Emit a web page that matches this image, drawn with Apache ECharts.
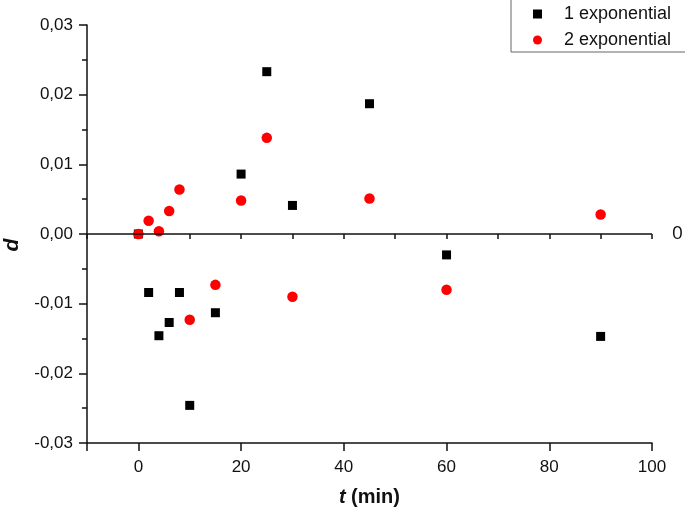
<!DOCTYPE html>
<html>
<head>
<meta charset="utf-8">
<script src="https://cdn.jsdelivr.net/npm/echarts@6/dist/echarts.min.js"></script>
<style>html,body{margin:0;padding:0;background:#fff}#c{width:685px;height:513px}</style>
</head>
<body>
<div id="c"></div>
<script>
var times = [0, 2, 4, 6, 8, 10, 15, 20, 25, 30, 45, 60, 90];
var oneExp = [0, -0.0084, -0.0146, -0.0127, -0.0084, -0.0246, -0.0113, 0.0086, 0.0233, 0.0041, 0.0187, -0.0030, -0.0147];
var twoExp = [0, 0.0019, 0.0004, 0.0033, 0.0064, -0.0123, -0.0073, 0.0048, 0.0138, -0.0090, 0.0051, -0.0080, 0.0028];
var seriesNames = ['1 exponential', '2 exponential'];
var zeroLineLabel = '0';

function pairs(xs, ys) { return xs.map(function (x, i) { return [x, ys[i]]; }); }
var font = 'Liberation Sans, Arial, sans-serif';
var chart = echarts.init(document.getElementById('c'));
chart.setOption({
  animation: false,
  backgroundColor: '#fff',
  grid: { left: 87, right: 33, top: 25, bottom: 70, containLabel: false, outerBoundsMode: 'none' },
  legend: {
    left: 511, top: -1,
    orient: 'vertical',
    padding: [6, 16, 3, 22],
    itemWidth: 9, itemHeight: 9, itemGap: 8,
    borderColor: '#666', borderWidth: 1,
    textStyle: { fontFamily: font, fontSize: 18, color: '#111', lineHeight: 16, padding: [0, 0, 0, 17] },
    data: [{ name: seriesNames[0], icon: 'rect' }, { name: seriesNames[1], icon: 'circle' }]
  },
  xAxis: [{
    type: 'value', min: -10, max: 100,
    name: '{i|t} {b|(min)}', nameLocation: 'middle', nameGap: 44,
    nameTextStyle: { rich: {
      i: { fontFamily: font, fontSize: 20, fontWeight: 'bold', fontStyle: 'italic', color: '#111' },
      b: { fontFamily: font, fontSize: 20, fontWeight: 'bold', color: '#111', padding: [0, 0, 0, 2] } } },
    axisLine: { onZero: false, lineStyle: { color: '#111', width: 1.5 } },
    axisTick: { length: 8, lineStyle: { color: '#111', width: 1.5 } },
    splitLine: { show: false },
    axisLabel: { margin: 16, fontFamily: font, fontSize: 17, color: '#111',
      formatter: function (v) { return v < 0 ? '' : String(v); } }
  }, {
    type: 'value', min: -10, max: 100, interval: 10, position: 'bottom',
    axisLine: { show: false },
    axisTick: { length: 5, lineStyle: { color: '#111', width: 1.5 } },
    axisLabel: { show: false }, splitLine: { show: false }
  }],
  yAxis: {
    type: 'value', min: -0.03, max: 0.03, interval: 0.01,
    name: 'd', nameLocation: 'middle', nameGap: 64,
    nameTextStyle: { fontFamily: font, fontSize: 21, fontWeight: 'bold', fontStyle: 'italic', color: '#111', padding: [0, 22, 0, 0] },
    axisLine: { show: true, onZero: false, lineStyle: { color: '#111', width: 1.5 } },
    axisTick: { show: true, length: 8, lineStyle: { color: '#111', width: 1.5 } },
    minorTick: { show: true, splitNumber: 2, length: 5, lineStyle: { color: '#111', width: 1.5 } },
    splitLine: { show: false },
    axisLabel: { margin: 14, fontFamily: font, fontSize: 17, color: '#111',
      formatter: function (v) { return (Math.round(v * 100) / 100).toFixed(2).replace('.', ','); } }
  },
  series: [{
    name: seriesNames[0], type: 'scatter', xAxisIndex: 0,
    symbol: 'rect', symbolSize: 9,
    itemStyle: { color: '#000', opacity: 1 },
    data: pairs(times, oneExp),
    markLine: {
      silent: true, symbol: 'none',
      lineStyle: { color: '#111', width: 1.5, type: 'solid' },
      label: { show: true, position: 'end', distance: 20, formatter: zeroLineLabel,
        fontFamily: 'Open Sans, sans-serif', fontSize: 19, color: '#111' },
      data: [{ yAxis: 0 }]
    }
  }, {
    name: seriesNames[1], type: 'scatter', xAxisIndex: 0,
    symbol: 'circle', symbolSize: 10.5,
    itemStyle: { color: '#ff0000', opacity: 1 },
    data: pairs(times, twoExp)
  }]
});
</script>
</body>
</html>
